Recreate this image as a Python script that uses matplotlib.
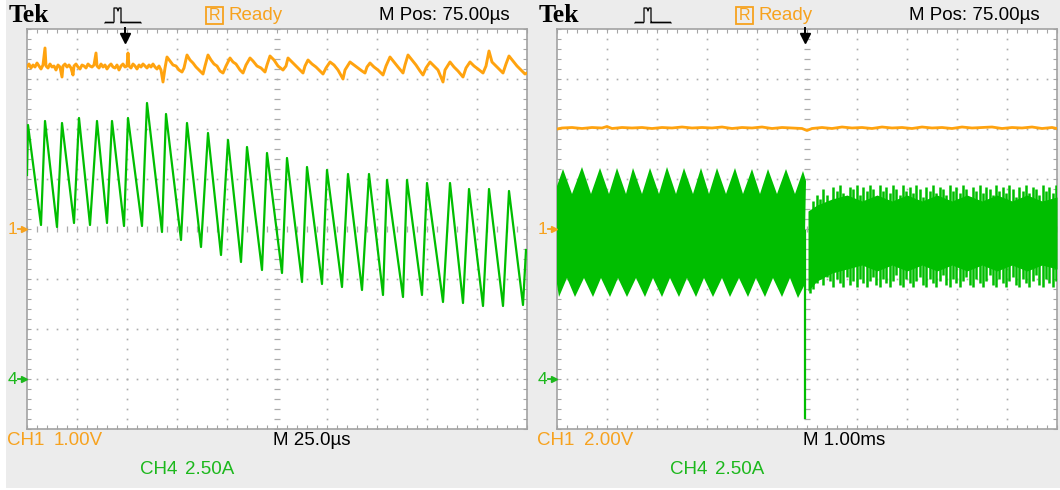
import numpy as np
import matplotlib.pyplot as plt
from matplotlib import font_manager
from matplotlib.lines import Line2D
from matplotlib.patches import Rectangle
from matplotlib.ticker import MultipleLocator

W, H = 1060, 490

# ---------------- left capture: 25 us/div, CH1 1.00 V/div, CH4 2.50 A/div
US_PER_DIV = 25.0
L_V_PER_DIV = 1.0
L_A_PER_DIV = 2.5

# inductor current, turning points (time from screen left in us, amps)
l_cur_t = [0, 0.5, 7, 9, 15, 17.5, 23.5, 26, 31.5, 35, 40, 42.5, 48.5, 50.5, 57.5,
           60, 67.5, 69.5, 77, 80, 87, 90.5, 97, 100.5, 107, 110, 117.5, 120, 127.5,
           130, 137.5, 140, 147.5, 150, 157.5, 160.5, 167.5, 171, 178, 180, 188,
           190, 197.5, 200, 208, 211.5, 218, 221, 228, 231, 238, 241, 248, 249.5]
l_cur_a = [10.2, 12.7, 7.7, 12.9, 7.6, 12.8, 7.8, 13.05, 7.7, 12.9, 7.8, 12.9, 7.65,
           13.05, 7.65, 13.8, 7.35, 13.25, 6.95, 12.8, 6.6, 12.3, 6.2, 11.95, 5.85,
           11.6, 5.45, 11.3, 5.3, 11.05, 4.85, 10.6, 4.75, 10.45, 4.6, 10.25, 4.45,
           10.25, 4.2, 9.95, 4.1, 9.95, 4.2, 9.8, 3.85, 9.8, 3.8, 9.5, 3.65, 9.5,
           3.65, 9.4, 3.7, 6.45]

# output voltage (us, volts)
l_volt_t = [0, 1, 2, 3, 4, 5, 6, 7, 8, 9, 9.5, 10.5, 11.5, 12.5, 13.5, 14.5, 15.5,
            16.5, 17.5, 18, 19, 20, 21, 22, 23, 23.5, 24.5, 25.5, 26.5, 27.5, 28.5,
            29.5, 30.5, 31.5, 32.5, 33.5, 34.5, 35, 36, 37, 38, 39, 40, 41, 42, 43,
            44, 45, 46, 47, 48, 49, 50, 50.5, 51, 52, 53, 54, 55, 56, 57, 58, 59, 60,
            61, 62, 63, 64, 65, 66, 67, 68, 69, 70, 71.5, 73, 74.5, 76, 77.5, 78.5,
            80, 81.5, 83, 84.5, 86, 88, 89, 90.5, 92, 93.5, 95, 96.5, 98, 99.5,
            101.5, 103, 104.5, 106.5, 108, 109.5, 111.5, 113, 115, 117, 119, 120,
            121.5, 123.5, 125.5, 128, 129.5, 130.5, 132.5, 134.5, 136.5, 138, 139,
            140.5, 142.5, 144.5, 146.5, 148, 149.5, 151.5, 153.5, 155.5, 158, 159,
            161.5, 163.5, 165.5, 167.5, 169, 170, 171.5, 173.5, 175.5, 178, 179.5,
            181.5, 183.5, 185.5, 188, 189, 190.5, 192.5, 194.5, 196.5, 198, 199.5,
            201.5, 203.5, 205.5, 208, 209, 211.5, 213.5, 215.5, 218, 219.5, 221.5,
            223.5, 225.5, 228, 229.5, 231, 232.5, 234.5, 236.5, 238, 239.5, 241,
            243, 245, 247, 249, 250]
l_volt_v = [3.24, 3.30, 3.22, 3.28, 3.24, 3.32, 3.26, 3.20, 3.28, 3.62, 3.26, 3.22,
            3.30, 3.24, 3.26, 3.18, 3.28, 3.24, 3.04, 3.26, 3.30, 3.24, 3.28, 3.22,
            3.08, 3.26, 3.30, 3.24, 3.20, 3.28, 3.26, 3.22, 3.30, 3.26, 3.24, 3.28,
            3.52, 3.26, 3.22, 3.30, 3.24, 3.28, 3.20, 3.26, 3.30, 3.24, 3.22, 3.28,
            3.18, 3.26, 3.30, 3.24, 3.26, 3.52, 3.26, 3.22, 3.30, 3.26, 3.20, 3.28,
            3.24, 3.30, 3.26, 3.22, 3.28, 3.24, 3.30, 3.24, 3.20, 3.26, 3.18, 2.94,
            3.22, 3.44, 3.36, 3.28, 3.26, 3.18, 3.14, 3.22, 3.48, 3.38, 3.32, 3.24,
            3.18, 3.10, 3.26, 3.48, 3.38, 3.30, 3.26, 3.16, 3.12, 3.26, 3.42, 3.34,
            3.30, 3.18, 3.12, 3.28, 3.42, 3.36, 3.26, 3.22, 3.14, 3.28, 3.46, 3.38,
            3.26, 3.18, 3.26, 3.42, 3.34, 3.26, 3.18, 3.12, 3.26, 3.38, 3.30, 3.24,
            3.16, 3.10, 3.22, 3.34, 3.28, 3.18, 3.00, 3.18, 3.34, 3.28, 3.22, 3.16,
            3.12, 3.24, 3.32, 3.24, 3.18, 3.08, 3.26, 3.44, 3.34, 3.24, 3.12, 3.28,
            3.48, 3.38, 3.28, 3.16, 3.08, 3.22, 3.34, 3.26, 3.18, 2.94, 3.18, 3.34,
            3.24, 3.16, 3.04, 3.22, 3.34, 3.26, 3.20, 3.12, 3.26, 3.56, 3.34, 3.26,
            3.18, 3.12, 3.30, 3.46, 3.36, 3.26, 3.18, 3.10, 3.12]

# ---------------- right capture: 1.00 ms/div, CH1 2.00 V/div, CH4 2.50 A/div
MS_PER_DIV = 1.0
R_V_PER_DIV = 2.0
R_A_PER_DIV = 2.5

r_volt_t = [0, 0.1, 0.3, 0.5, 0.7, 0.9, 1.0, 1.1, 1.3, 1.5, 1.7, 1.9, 2.1, 2.3, 2.5,
            2.7, 2.9, 3.1, 3.3, 3.5, 3.7, 3.9, 4.1, 4.3, 4.5, 4.7, 4.9, 5.0, 5.1,
            5.3, 5.5, 5.7, 5.9, 6.1, 6.3, 6.5, 6.7, 6.9, 7.1, 7.3, 7.5, 7.7, 7.9,
            8.1, 8.3, 8.5, 8.7, 8.9, 9.1, 9.3, 9.5, 9.7, 9.9, 10.0]
r_volt_v = [4.00, 4.04, 4.06, 4.02, 4.06, 4.04, 4.10, 4.02, 4.06, 4.04, 4.06, 4.02,
            4.06, 4.04, 4.08, 4.04, 4.06, 4.04, 4.08, 4.02, 4.06, 4.04, 4.08, 4.02,
            4.06, 4.04, 4.02, 3.94, 4.02, 4.06, 4.02, 4.08, 4.04, 4.06, 4.02, 4.08,
            4.04, 4.06, 4.02, 4.08, 4.04, 4.06, 4.02, 4.08, 4.04, 4.06, 4.08, 4.02,
            4.06, 4.04, 4.08, 4.02, 4.06, 4.02]

# current envelope before the load step (ms, amps)
r_env_up_t = [0, 0.12, 0.30, 0.50, 0.68, 0.86, 1.04, 1.20, 1.38, 1.52, 1.70, 1.86,
              2.04, 2.20, 2.38, 2.54, 2.72, 2.88, 3.04, 3.20, 3.38, 3.56, 3.72, 3.90,
              4.06, 4.22, 4.40, 4.58, 4.76, 4.92, 4.98]
r_env_up_a = [9.65, 10.5, 9.25, 10.6, 9.25, 10.55, 9.25, 10.55, 9.25, 10.55, 9.25,
              10.55, 9.25, 10.6, 9.25, 10.55, 9.25, 10.55, 9.25, 10.55, 9.25, 10.55,
              9.25, 10.5, 9.25, 10.5, 9.25, 10.5, 9.25, 10.4, 9.9]
r_env_lo_t = [0, 0.04, 0.20, 0.36, 0.54, 0.72, 0.88, 1.06, 1.22, 1.40, 1.58, 1.76,
              1.92, 2.10, 2.26, 2.44, 2.60, 2.78, 2.94, 3.12, 3.30, 3.46, 3.64, 3.82,
              3.98, 4.16, 4.32, 4.50, 4.66, 4.82, 4.94]
r_env_lo_a = [4.75, 4.1, 5.05, 4.1, 5.05, 4.1, 5.05, 4.1, 5.05, 4.1, 5.05, 4.1,
              5.05, 4.1, 5.05, 4.1, 5.05, 4.1, 5.05, 4.1, 5.05, 4.1, 5.05, 4.1,
              5.05, 4.1, 5.05, 4.1, 5.05, 4.05, 4.65]

# undershoot at the load step
r_step_t = 4.96
r_step_a = [7.4, -1.95]

# current after the step: solid core and individual switching bursts
r_core_t = [5.02, 5.2, 5.5, 5.8, 6.1, 6.4, 6.7, 7.0, 7.3, 7.6, 7.9, 8.2, 8.5, 8.8,
            9.1, 9.4, 9.7, 10.0]
r_core_top = [8.4, 8.7, 9.0, 9.2, 8.9, 9.2, 8.9, 9.2, 8.9, 9.2, 8.9, 9.2, 8.9, 9.2,
              8.9, 9.2, 8.9, 9.1]
r_core_bot = [4.4, 4.9, 5.3, 5.5, 5.7, 5.4, 5.7, 5.4, 5.7, 5.4, 5.7, 5.4, 5.7, 5.4,
              5.7, 5.4, 5.7, 5.5]
r_burst_top = [8.4, 8.9, 9.2, 9.0, 9.5, 9.2, 8.7, 9.6, 9.4, 9.7, 9.3, 9.0, 9.6, 9.5,
               9.7, 9.2, 9.6, 9.4, 9.7, 9.5, 9.1, 9.7, 9.4, 9.6, 9.3, 9.7, 9.5, 9.2,
               9.7, 9.4, 9.6, 9.3, 9.7, 9.5, 9.1, 9.6, 9.4, 9.7, 9.3, 9.6, 9.5, 9.2,
               9.7, 9.4, 9.6, 9.3, 9.7, 9.5, 9.1, 9.6, 9.4, 9.7, 9.3, 9.6, 9.5, 9.2,
               9.7, 9.4, 9.6, 9.3, 9.7, 9.5, 9.1, 9.6, 9.4, 9.7, 9.3, 9.6, 9.5, 9.2,
               9.7, 9.4, 9.6, 9.3, 9.7]
r_burst_bot = [4.3, 4.5, 4.8, 5.0, 4.7, 5.1, 4.9, 4.6, 5.0, 4.8, 4.6, 5.1, 4.7, 4.9,
               4.6, 5.0, 4.8, 4.6, 4.9, 5.1, 4.7, 4.6, 5.0, 4.8, 4.6, 4.9, 5.2, 4.7,
               4.6, 5.0, 4.8, 4.6, 4.9, 5.1, 4.7, 4.6, 5.0, 4.8, 4.6, 4.9, 5.2, 4.7,
               4.6, 5.0, 4.8, 4.6, 4.9, 5.1, 4.7, 4.6, 5.0, 4.8, 4.6, 4.9, 5.2, 4.7,
               4.6, 5.0, 4.8, 4.6, 4.9, 5.1, 4.7, 4.6, 5.0, 4.8, 4.6, 4.9, 5.2, 4.7,
               4.6, 5.0, 4.8, 4.6, 4.9]

CH1_GND = 0.0    # divisions from screen centre
CH4_GND = -3.0

ORANGE = "#FFA30F"
ORANGE_TXT = "#F7A21E"
GREEN = "#00BE00"
GREEN_TXT = "#1CB81C"
GRID = "#ABABAB"
BG = "#ECECEC"

names = {f.name for f in font_manager.fontManager.ttflist}
UI_FONT = "Liberation Sans Narrow" if "Liberation Sans Narrow" in names else "Liberation Sans"
UI_SIZE = 14.5 if UI_FONT.endswith("Narrow") else 13.5


def fx(px):
    return px / W


def fy(py):
    return 1 - py / H


fig = plt.figure(figsize=(W / 100, H / 100), dpi=100)
fig.patch.set_facecolor("white")
fig.add_artist(Rectangle((fx(6), fy(488)), fx(1060) - fx(6), fy(0) - fy(488),
                         transform=fig.transFigure, facecolor=BG, edgecolor="none", zorder=0))


def graticule(ax):
    ax.set_xlim(0, 10)
    ax.set_ylim(-4, 4)
    ax.set_facecolor("white")
    for s in ax.spines.values():
        s.set_color("#A2A2A2")
        s.set_linewidth(1.2)
    ax.xaxis.set_major_locator(MultipleLocator(1))
    ax.yaxis.set_major_locator(MultipleLocator(1))
    ax.xaxis.set_minor_locator(MultipleLocator(0.2))
    ax.yaxis.set_minor_locator(MultipleLocator(0.2))
    ax.tick_params(which="both", direction="in", top=True, right=True, length=3,
                   width=0.8, color="#A5A5A5", labelbottom=False, labelleft=False)
    fine_y = np.arange(-4, 4.001, 0.2)
    fine_x = np.arange(0, 10.001, 0.2)
    for xv in [1, 2, 3, 4, 6, 7, 8, 9]:
        ax.plot(np.full_like(fine_y, xv), fine_y, ls="none", marker="s", ms=1.2,
                mec="none", color=GRID, zorder=1)
    for yv in [-3, -2, -1, 1, 2, 3]:
        ax.plot(fine_x, np.full_like(fine_x, yv), ls="none", marker="s", ms=1.2,
                mec="none", color=GRID, zorder=1)
    # centre cross with fine ticks
    ax.plot(np.full_like(fine_y, 5), fine_y, ls="none", marker="_", ms=4.5, mew=0.9,
            color=GRID, zorder=1)
    ax.plot(fine_x, np.zeros_like(fine_x), ls="none", marker="|", ms=4.5, mew=0.9,
            color=GRID, zorder=1)


def screen(x0, trig_px, ch1_scale, tbase):
    ax = fig.add_axes([fx(x0), fy(429), 500 / W, 400 / H])
    graticule(ax)
    ui = dict(family=[UI_FONT, "DejaVu Sans"], fontsize=UI_SIZE, va="center")
    # header
    fig.text(fx(x0 - 18), fy(16), "Tek", family=["Liberation Serif", "DejaVu Serif"],
             fontsize=18.5, fontweight="bold", va="center", color="black")
    ix = x0 + 78
    pulse_x = [0, 1, 2, 3, 4, 5, 6, 7, 8, 9, 9, 12, 13, 14, 16, 16, 17, 18, 19, 20,
               21, 22, 23, 24, 25, 26, 27, 28, 29, 30, 31, 32, 33, 34, 35, 36]
    pulse_y = [23, 22, 23, 22, 23, 22, 23, 22, 23, 22, 8, 8, 11, 8, 8, 23, 22, 23,
               22, 23, 22, 23, 22, 23, 22, 23, 22, 23, 22, 23, 22, 23, 22, 23, 22, 23]
    fig.add_artist(Line2D([fx(ix + p) for p in pulse_x], [fy(p) for p in pulse_y],
                          transform=fig.transFigure, color="black", lw=0.9))
    fig.add_artist(Rectangle((fx(x0 + 179), fy(24)), 17 / W, 17 / H,
                             transform=fig.transFigure, facecolor="none",
                             edgecolor=ORANGE_TXT, lw=1.3))
    fig.text(fx(x0 + 187.5), fy(15.5), "R", ha="center", color=ORANGE_TXT,
             **dict(ui, fontsize=UI_SIZE - 2))
    fig.text(fx(x0 + 201), fy(15), "Ready", color=ORANGE_TXT, **ui)
    fig.text(fx(x0 + 352), fy(15), "M Pos: 75.00\u00b5s", color="black", **ui)
    # trigger position arrow
    fig.add_artist(Line2D([fx(trig_px), fx(trig_px)], [fy(28), fy(36)],
                          transform=fig.transFigure, color="black", lw=1.4))
    fig.add_artist(Line2D([fx(trig_px)], [fy(38)], transform=fig.transFigure,
                          marker="v", ms=7, color="black", ls="none"))
    # channel ground markers
    for label, gnd, col in [("1", CH1_GND, ORANGE_TXT), ("4", CH4_GND, GREEN_TXT)]:
        py = 229 - 50 * gnd
        fig.text(fx(x0 - 19), fy(py), label, color=col, family=[UI_FONT, "DejaVu Sans"],
                 fontsize=UI_SIZE - 1, va="center")
        fig.add_artist(Line2D([fx(x0 - 9), fx(x0 - 3)], [fy(py), fy(py)],
                              transform=fig.transFigure, color=col, lw=1.3))
        fig.add_artist(Line2D([fx(x0 - 3)], [fy(py)], transform=fig.transFigure,
                              marker=">", ms=4.5, color=col, ls="none"))
    # footer
    fig.text(fx(x0 - 20), fy(440), "CH1", color=ORANGE_TXT, **ui)
    fig.text(fx(x0 + 27), fy(440), ch1_scale, color=ORANGE_TXT, **ui)
    fig.text(fx(x0 + 246), fy(440), tbase, color="black", **ui)
    fig.text(fx(x0 + 113), fy(469), "CH4", color=GREEN_TXT, **ui)
    fig.text(fx(x0 + 158), fy(469), "2.50A", color=GREEN_TXT, **ui)
    return ax


# left: ripple during steady switching
axl = screen(27, 125, "1.00V", "M 25.0\u00b5s")
axl.plot(np.array(l_volt_t) / US_PER_DIV, np.array(l_volt_v) / L_V_PER_DIV + CH1_GND,
         color=ORANGE, lw=2.1, zorder=3)
axl.plot(np.array(l_cur_t) / US_PER_DIV, np.array(l_cur_a) / L_A_PER_DIV + CH4_GND,
         color=GREEN, lw=1.6, zorder=3)

# right: load step
axr = screen(557, 805, "2.00V", "M 1.00ms")
axr.plot(np.array(r_volt_t) / MS_PER_DIV, np.array(r_volt_v) / R_V_PER_DIV + CH1_GND,
         color=ORANGE, lw=2.0, zorder=3)
env_t = np.concatenate([r_env_up_t, r_env_lo_t[::-1]]) / MS_PER_DIV
env_a = np.concatenate([r_env_up_a, r_env_lo_a[::-1]])
axr.fill(env_t, env_a / R_A_PER_DIV + CH4_GND, color=GREEN, lw=0, zorder=3)
axr.fill_between(np.array(r_core_t) / MS_PER_DIV,
                 np.array(r_core_bot) / R_A_PER_DIV + CH4_GND,
                 np.array(r_core_top) / R_A_PER_DIV + CH4_GND,
                 color=GREEN, lw=0, zorder=3)
burst_t = np.linspace(5.06, 9.98, len(r_burst_top)) / MS_PER_DIV
axr.vlines(burst_t, np.array(r_burst_bot) / R_A_PER_DIV + CH4_GND,
           np.array(r_burst_top) / R_A_PER_DIV + CH4_GND, color=GREEN, lw=1.8, zorder=3)
axr.plot([r_step_t / MS_PER_DIV] * 2, np.array(r_step_a) / R_A_PER_DIV + CH4_GND,
         color=GREEN, lw=1.6, zorder=3)

fig.savefig("out.png", dpi=100, facecolor=fig.get_facecolor())
